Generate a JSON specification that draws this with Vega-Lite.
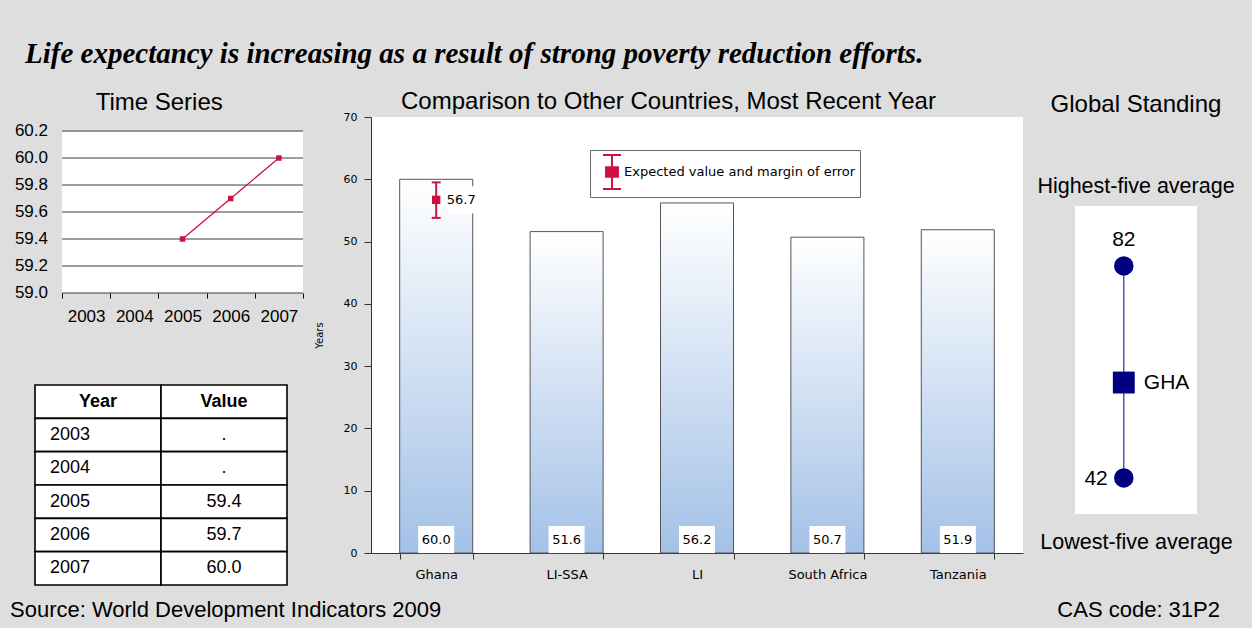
{
  "$schema": "https://vega.github.io/schema/vega-lite/v6.json",
  "background": "#dedede",
  "padding": {"left": 10, "top": 40, "right": 30, "bottom": 20},
  "title": {
    "text": "Life expectancy is increasing as a result of strong poverty reduction efforts.",
    "font": "Liberation Serif", "fontSize": 29, "fontWeight": "bold", "fontStyle": "italic",
    "anchor": "start", "dx": 15, "offset": 21, "color": "black", "frame": "bounds"
  },
  "config": {
    "view": {"stroke": null},
    "font": "Liberation Sans",
    "text": {"color": "black"},
    "axis": {"labelColor": "black", "titleColor": "black"},
    "title": {"color": "black", "subtitleColor": "black", "fontWeight": "normal"}
  },
  "datasets": {
    "series": [
      {"year": "2005", "value": 59.4},
      {"year": "2006", "value": 59.7},
      {"year": "2007", "value": 60.0}
    ],
    "tsgrid": [
      {"v": 59.0}, {"v": 59.2}, {"v": 59.4}, {"v": 59.6}, {"v": 59.8}, {"v": 60.0}, {"v": 60.2}
    ],
    "table": [
      {"row": 0, "col": "Year", "text": "Year"},
      {"row": 0, "col": "Value", "text": "Value"},
      {"row": 1, "col": "Year", "text": "2003"},
      {"row": 1, "col": "Value", "text": "."},
      {"row": 2, "col": "Year", "text": "2004"},
      {"row": 2, "col": "Value", "text": "."},
      {"row": 3, "col": "Year", "text": "2005"},
      {"row": 3, "col": "Value", "text": "59.4"},
      {"row": 4, "col": "Year", "text": "2006"},
      {"row": 4, "col": "Value", "text": "59.7"},
      {"row": 5, "col": "Year", "text": "2007"},
      {"row": 5, "col": "Value", "text": "60.0"}
    ],
    "compare": [
      {"country": "Ghana", "value": 60.0, "expected": 56.7, "lower": 53.8, "upper": 59.5, "series": "Expected value and margin of error"},
      {"country": "LI-SSA", "value": 51.6},
      {"country": "LI", "value": 56.2},
      {"country": "South Africa", "value": 50.7},
      {"country": "Tanzania", "value": 51.9}
    ],
    "standing": [
      {"panel": "GHA", "kind": "high", "value": 82, "label": "82"},
      {"panel": "GHA", "kind": "low", "value": 42, "label": "42"},
      {"panel": "GHA", "kind": "country", "value": 60.0, "label": "GHA"}
    ],
    "notes": [
      {"side": "left", "note": "Source: World Development Indicators 2009"},
      {"side": "right", "note": "CAS code: 31P2"}
    ]
  },
  "resolve": {"scale": {"x": "independent", "y": "independent", "color": "independent"}},
  "spacing": 13,
  "vconcat": [
    {
      "spacing": 14,
      "resolve": {"scale": {"x": "independent", "y": "independent", "color": "independent"}},
      "hconcat": [
        {
          "spacing": 10,
          "resolve": {"scale": {"x": "independent", "y": "independent", "color": "independent"}},
          "hconcat": [
            {
              "spacing": 59,
              "resolve": {"scale": {"x": "independent", "y": "independent"}},
              "vconcat": [
                {
                  "width": 268,
                  "height": 176,
                  "title": {"text": "Time Series", "font": "Liberation Sans", "fontSize": 24, "fontWeight": "normal", "frame": "bounds", "offset": 2, "color": "black"},
                  "layer": [
                    {
                      "data": {"name": "series"},
                      "transform": [{"aggregate": [{"op": "count", "as": "n"}]}],
                      "mark": {"type": "rect", "fill": "white"},
                      "encoding": {
                        "x": {
                          "datum": "2003", "type": "ordinal", "bandPosition": 0,
                          "scale": {"type": "band", "domain": ["2003", "2004", "2005", "2006", "2007"], "paddingInner": 0, "paddingOuter": 0.28, "align": 1},
                          "axis": {"title": null, "labelAngle": 0, "tickBand": "extent", "domain": false, "tickColor": "black", "tickSize": 5, "labelFontSize": 17, "labelPadding": 10.5, "labelFont": "Liberation Sans", "grid": false}
                        },
                        "x2": {"value": "width"},
                        "y": {
                          "datum": 60.2, "type": "quantitative", "title": null,
                          "scale": {"domain": [59.0, 60.304], "zero": false, "nice": false},
                          "axis": null
                        },
                        "y2": {"datum": 59.0}
                      }
                    },
                    {
                      "data": {"name": "tsgrid"},
                      "mark": {"type": "rule", "color": "#3a3a3a", "strokeWidth": 1},
                      "encoding": {
                        "x": {"datum": "2003", "type": "ordinal", "bandPosition": 0},
                        "x2": {"value": "width"},
                        "y": {"field": "v", "type": "quantitative", "title": null}
                      }
                    },
                    {
                      "data": {"name": "tsgrid"},
                      "mark": {"type": "text", "align": "right", "baseline": "middle", "dx": -14, "fontSize": 17, "font": "Liberation Sans"},
                      "encoding": {
                        "x": {"datum": "2003", "type": "ordinal", "bandPosition": 0},
                        "y": {"field": "v", "type": "quantitative", "title": null},
                        "text": {"field": "v", "type": "quantitative", "format": ".1f"}
                      }
                    },
                    {
                      "data": {"name": "series"},
                      "mark": {"type": "line", "color": "#cc1242", "strokeWidth": 1.3},
                      "encoding": {
                        "x": {"field": "year", "type": "ordinal", "title": null},
                        "y": {"field": "value", "type": "quantitative", "title": null}
                      }
                    },
                    {
                      "data": {"name": "series"},
                      "mark": {"type": "point", "shape": "square", "filled": true, "size": 30, "color": "#cc1242", "opacity": 1},
                      "encoding": {
                        "x": {"field": "year", "type": "ordinal", "title": null},
                        "y": {"field": "value", "type": "quantitative", "title": null}
                      }
                    }
                  ]
                },
                {
                  "data": {"name": "table"},
                  "width": 252,
                  "height": 200,
                  "encoding": {
                    "x": {"field": "col", "type": "nominal", "scale": {"type": "band", "domain": ["Year", "Value"], "paddingInner": 0, "paddingOuter": 0}, "axis": null},
                    "y": {"field": "row", "type": "ordinal", "scale": {"type": "band", "paddingInner": 0, "paddingOuter": 0}, "axis": null}
                  },
                  "layer": [
                    {"mark": {"type": "rect", "fill": "white", "stroke": "black", "strokeWidth": 1.6}},
                    {
                      "transform": [{"filter": "datum.row == 0"}],
                      "mark": {"type": "text", "fontSize": 18, "fontWeight": "bold", "font": "Liberation Sans"},
                      "encoding": {"text": {"field": "text"}}
                    },
                    {
                      "transform": [{"filter": "datum.row > 0 && datum.col == 'Year'"}],
                      "mark": {"type": "text", "align": "left", "dx": 15, "fontSize": 18, "font": "Liberation Sans"},
                      "encoding": {"x": {"field": "col", "type": "nominal", "bandPosition": 0}, "text": {"field": "text"}}
                    },
                    {
                      "transform": [{"filter": "datum.row > 0 && datum.col == 'Value'"}],
                      "mark": {"type": "text", "fontSize": 18, "font": "Liberation Sans"},
                      "encoding": {"text": {"field": "text"}}
                    }
                  ]
                }
              ]
            },
            {
              "data": {"name": "compare"},
              "width": 652,
              "height": 436,
              "view": {"fill": "white", "stroke": null},
              "title": {"text": "Comparison to Other Countries, Most Recent Year", "font": "Liberation Sans", "fontSize": 24, "fontWeight": "normal", "frame": "bounds", "offset": -3, "color": "black"},
              "encoding": {
                "x": {
                  "field": "country", "type": "nominal", "sort": null,
                  "scale": {"paddingInner": 0.44, "paddingOuter": 0.22},
                  "axis": {"title": null, "labelAngle": 0, "tickBand": "extent", "tickSize": 6, "tickColor": "#333333", "domainColor": "#333333", "labelFont": "DejaVu Sans", "labelFontSize": 13, "labelPadding": 9}
                }
              },
              "layer": [
                {
                  "mark": {
                    "type": "bar", "stroke": "#555555", "strokeWidth": 1,
                    "fill": {"gradient": "linear", "x1": 0, "y1": 0, "x2": 0, "y2": 1, "stops": [{"offset": 0, "color": "#ffffff"}, {"offset": 1, "color": "#a3c1e7"}]}
                  },
                  "encoding": {
                    "y": {
                      "field": "value", "type": "quantitative",
                      "scale": {"domain": [0, 70], "nice": false},
                      "axis": {"title": "Years", "values": [0, 10, 20, 30, 40, 50, 60, 70], "grid": false, "tickSize": 7, "tickColor": "#333333", "domainColor": "#333333", "labelPadding": 7, "labelFont": "DejaVu Sans", "labelFontSize": 11, "titleFont": "DejaVu Sans", "titleFontSize": 10, "titleFontWeight": "normal", "titlePadding": 19}
                    }
                  }
                },
                {
                  "mark": {"type": "point", "shape": "M-1,-0.75H1V0.75H-1Z", "size": 1296, "filled": true, "fill": "white", "opacity": 1, "strokeWidth": 0, "yOffset": -13.5},
                  "encoding": {"y": {"datum": 0}}
                },
                {
                  "mark": {"type": "text", "font": "DejaVu Sans", "fontSize": 13, "yOffset": -13.5, "baseline": "middle"},
                  "encoding": {"y": {"datum": 0}, "text": {"field": "value", "type": "quantitative", "format": ".1f"}}
                },
                {
                  "transform": [{"filter": "isValid(datum.expected)"}],
                  "mark": {"type": "point", "shape": "square", "filled": true, "fill": "white", "size": 729, "opacity": 1, "strokeWidth": 0, "xOffset": 25},
                  "encoding": {"y": {"field": "expected", "type": "quantitative"}}
                },
                {
                  "transform": [{"filter": "isValid(datum.expected)"}],
                  "mark": {"type": "text", "font": "DejaVu Sans", "fontSize": 13, "xOffset": 25, "baseline": "middle"},
                  "encoding": {"y": {"field": "expected", "type": "quantitative"}, "text": {"field": "expected", "type": "quantitative", "format": ".1f"}}
                },
                {
                  "transform": [{"filter": "isValid(datum.expected)"}],
                  "mark": {"type": "rule", "color": "#cc1242", "strokeWidth": 2},
                  "encoding": {"y": {"field": "lower", "type": "quantitative"}, "y2": {"field": "upper"}}
                },
                {
                  "transform": [{"filter": "isValid(datum.expected)"}],
                  "mark": {"type": "tick", "color": "#cc1242", "thickness": 2, "size": 9, "opacity": 1},
                  "encoding": {"y": {"field": "lower", "type": "quantitative"}}
                },
                {
                  "transform": [{"filter": "isValid(datum.expected)"}],
                  "mark": {"type": "tick", "color": "#cc1242", "thickness": 2, "size": 9, "opacity": 1},
                  "encoding": {"y": {"field": "upper", "type": "quantitative"}}
                },
                {
                  "transform": [{"filter": "isValid(datum.expected)"}],
                  "mark": {"type": "point", "shape": "square", "filled": true, "size": 70, "opacity": 1},
                  "encoding": {
                    "y": {"field": "expected", "type": "quantitative"},
                    "color": {
                      "field": "series", "type": "nominal",
                      "scale": {"range": ["#cc1242"]},
                      "legend": {
                        "title": null, "orient": "none", "legendX": 219, "legendY": 33,
                        "symbolType": "M-0.53,-1H0.53M0,-1V1M-0.53,1H0.53M-0.35,-0.28H0.35V0.28H-0.35Z",
                        "symbolSize": 1156, "symbolStrokeWidth": 2, "symbolStrokeColor": "#cc1242", "symbolFillColor": "#cc1242",
                        "labelFont": "DejaVu Sans", "labelFontSize": 13, "labelColor": "black", "labelOffset": -6, "labelLimit": 400,
                        "padding": 4, "fillColor": "white", "strokeColor": "#666666",
                        "encode": {"symbols": {"update": {"stroke": {"value": "#cc1242"}, "strokeWidth": {"value": 2}, "fill": {"value": "#cc1242"}}}}
                      }
                    }
                  }
                }
              ]
            }
          ]
        },
        {
          "data": {"name": "standing"},
          "width": 122,
          "height": 397,
          "title": {"text": "Global Standing", "subtitle": "Highest-five average", "font": "Liberation Sans", "fontSize": 24, "fontWeight": "normal", "subtitleFont": "Liberation Sans", "subtitleFontSize": 21.5, "subtitlePadding": 59, "offset": -80, "color": "black", "subtitleColor": "black", "frame": "group"},
          "layer": [
            {
              "transform": [{"aggregate": [{"op": "count", "as": "n"}]}],
              "mark": {"type": "rect", "fill": "white"},
              "encoding": {
                "x": {"value": 0},
                "x2": {"value": "width"},
                "y": {"datum": 93.3, "type": "quantitative", "scale": {"domain": [35.2, 110.1], "nice": false, "zero": false}, "axis": null},
                "y2": {"datum": 35.2}
              }
            },
            {
              "mark": {"type": "rule", "color": "#2a2aa0", "strokeWidth": 1.2},
              "encoding": {
                "x": {"field": "panel", "type": "nominal", "scale": {"type": "point", "align": 0.4}, "axis": {"title": "Lowest-five average", "labels": false, "ticks": false, "domain": false, "titleFont": "Liberation Sans", "titleFontSize": 21.5, "titleFontWeight": "normal", "titlePadding": 17}},
                "y": {"aggregate": "min", "field": "value", "type": "quantitative"},
                "y2": {"aggregate": "max", "field": "value"}
              }
            },
            {
              "transform": [{"filter": "datum.kind != 'country'"}],
              "mark": {"type": "circle", "size": 380, "color": "#000080", "opacity": 1},
              "encoding": {"x": {"field": "panel", "type": "nominal"}, "y": {"field": "value", "type": "quantitative"}}
            },
            {
              "transform": [{"filter": "datum.kind == 'country'"}],
              "mark": {"type": "square", "size": 480, "color": "#000080", "opacity": 1},
              "encoding": {"x": {"field": "panel", "type": "nominal"}, "y": {"field": "value", "type": "quantitative"}}
            },
            {
              "transform": [{"filter": "datum.kind == 'high'"}],
              "mark": {"type": "text", "fontSize": 21, "baseline": "alphabetic", "dy": -20, "font": "Liberation Sans"},
              "encoding": {"x": {"field": "panel", "type": "nominal"}, "y": {"field": "value", "type": "quantitative"}, "text": {"field": "label"}}
            },
            {
              "transform": [{"filter": "datum.kind == 'low'"}],
              "mark": {"type": "text", "fontSize": 21, "align": "right", "baseline": "middle", "dx": -16, "dy": 1, "font": "Liberation Sans"},
              "encoding": {"x": {"field": "panel", "type": "nominal"}, "y": {"field": "value", "type": "quantitative"}, "text": {"field": "label"}}
            },
            {
              "transform": [{"filter": "datum.kind == 'country'"}],
              "mark": {"type": "text", "fontSize": 21, "align": "left", "baseline": "middle", "dx": 20, "font": "Liberation Sans"},
              "encoding": {"x": {"field": "panel", "type": "nominal"}, "y": {"field": "value", "type": "quantitative"}, "text": {"field": "label"}}
            }
          ]
        }
      ]
    },
    {
      "data": {"name": "notes"},
      "width": 1185,
      "height": 10,
      "encoding": {
        "x": {"field": "side", "type": "nominal", "scale": {"type": "band", "domain": ["left", "right"], "paddingInner": 0, "paddingOuter": 0}, "axis": null}
      },
      "layer": [
        {
          "transform": [{"filter": "datum.side == 'left'"}],
          "mark": {"type": "text", "align": "left", "baseline": "alphabetic", "fontSize": 22, "font": "Liberation Sans", "dx": -25},
          "encoding": {"x": {"field": "side", "type": "nominal", "bandPosition": 0}, "text": {"field": "note"}}
        },
        {
          "transform": [{"filter": "datum.side == 'right'"}],
          "mark": {"type": "text", "align": "right", "baseline": "alphabetic", "fontSize": 22, "font": "Liberation Sans"},
          "encoding": {"x": {"field": "side", "type": "nominal", "bandPosition": 1}, "text": {"field": "note"}}
        }
      ]
    }
  ]
}
